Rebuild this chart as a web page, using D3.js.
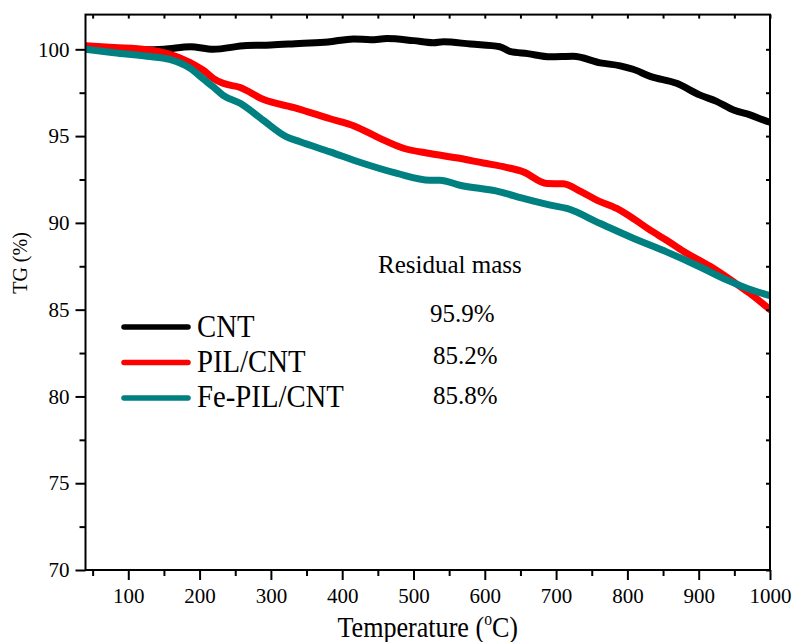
<!DOCTYPE html>
<html>
<head>
<meta charset="utf-8">
<script src="https://cdn.jsdelivr.net/npm/d3@7/dist/d3.min.js"></script>
<style>
  body { margin: 0; background: #fff; }
</style>
</head>
<body>
<svg id="chart" width="796" height="642"></svg>
<script>
// ---- data ----
const cntT   = [40, 80, 120, 150, 187, 219, 266, 300, 340, 380, 416, 440, 463, 500, 528, 542, 580, 621, 635, 660, 692, 724, 762, 790, 808, 832, 869, 902, 925, 949, 972, 996, 1000];
const cntV   = [100.0, 100.0, 99.97, 100.0, 100.15, 100.0, 100.22, 100.25, 100.34, 100.42, 100.6, 100.55, 100.62, 100.5, 100.38, 100.44, 100.3, 100.15, 99.88, 99.75, 99.57, 99.6, 99.22, 99.05, 98.85, 98.44, 98.04, 97.36, 97.0, 96.5, 96.22, 95.85, 95.8];
const pilT   = [40, 80, 126, 154, 187, 205, 219, 233, 257, 289, 336, 383, 416, 453, 486, 523, 560, 598, 630, 654, 687, 710, 735, 757, 785, 810, 832, 855, 879, 916, 949, 972, 1000];
const pilV   = [100.2, 100.1, 99.98, 99.77, 99.23, 98.8, 98.33, 98.04, 97.8, 97.12, 96.6, 96.0, 95.6, 94.87, 94.3, 94.0, 93.75, 93.45, 93.2, 92.94, 92.27, 92.25, 91.8, 91.31, 90.83, 90.2, 89.58, 89.0, 88.35, 87.5, 86.6, 85.93, 85.0];
const fepilT = [40, 80, 126, 158, 187, 205, 219, 233, 257, 289, 322, 341, 383, 430, 477, 523, 537, 565, 621, 654, 692, 715, 762, 809, 855, 902, 940, 963, 1000];
const fepilV = [100.0, 99.8, 99.6, 99.42, 98.9, 98.3, 97.84, 97.35, 96.89, 95.92, 94.96, 94.67, 94.09, 93.42, 92.85, 92.46, 92.46, 92.17, 91.79, 91.41, 91.02, 90.83, 89.96, 89.1, 88.33, 87.46, 86.7, 86.31, 85.8];

const seriesNames  = ["CNT", "PIL/CNT", "Fe-PIL/CNT"];
const seriesColors = ["#000000", "#ff0000", "#008080"];
const residualLabels = ["95.9%", "85.2%", "85.8%"];
const residualTitle = "Residual mass";

const xTicks = [100, 200, 300, 400, 500, 600, 700, 800, 900, 1000];
const xMinor = [50, 150, 250, 350, 450, 550, 650, 750, 850, 950];
const yTicks = [70, 75, 80, 85, 90, 95, 100];
const yMinor = [72.5, 77.5, 82.5, 87.5, 92.5, 97.5];

const series = [
  cntT.map((t, i) => [t, cntV[i]]),
  pilT.map((t, i) => [t, pilV[i]]),
  fepilT.map((t, i) => [t, fepilV[i]])
];

const FONT = "'Liberation Serif', 'Times New Roman', Tinos, 'DejaVu Serif', serif";

// ---- layout ----
const svg = d3.select("#chart");
const x = d3.scaleLinear().domain([40, 1000]).range([85.5, 770]);
const y = d3.scaleLinear().domain([70, 102]).range([570, 14.6]);
const X0 = x.range()[0], X1 = x.range()[1], Y0 = y.range()[0], Y1 = y.range()[1];

svg.append("clipPath").attr("id", "clip").append("rect")
  .attr("x", X0).attr("y", Y1).attr("width", X1 - X0).attr("height", Y0 - Y1);

const line = d3.line().x(d => x(d[0])).y(d => y(d[1])).curve(d3.curveMonotoneX);
const g = svg.append("g").attr("clip-path", "url(#clip)");
series.forEach((s, i) => {
  g.append("path").datum(s)
    .attr("d", line)
    .attr("fill", "none")
    .attr("stroke", seriesColors[i])
    .attr("stroke-width", 7)
    .attr("stroke-linejoin", "round")
    .attr("stroke-linecap", "round");
});

function styleAxis(sel) {
  sel.attr("font-family", null);
  sel.select(".domain").remove();
  sel.selectAll("line").attr("stroke", "#000").attr("stroke-width", 2);
  sel.selectAll("text").style("font-family", FONT).attr("fill", "#000");
}
const bottom = svg.append("g").attr("transform", `translate(0,${Y0})`)
  .call(d3.axisBottom(x).tickValues(xTicks).tickSize(10).tickPadding(8).tickFormat(d3.format("d")));
styleAxis(bottom);
bottom.selectAll("text").attr("font-size", 21);
svg.append("g").attr("transform", `translate(0,${Y0})`)
  .call(d3.axisBottom(x).tickValues(xMinor).tickSize(6).tickFormat(""))
  .call(styleAxis);
const left = svg.append("g").attr("transform", `translate(${X0},0)`)
  .call(d3.axisLeft(y).tickValues(yTicks).tickSize(10).tickPadding(6).tickFormat(d3.format("d")));
styleAxis(left);
left.selectAll("text").attr("font-size", 21);
svg.append("g").attr("transform", `translate(${X0},0)`)
  .call(d3.axisLeft(y).tickValues(yMinor).tickSize(6).tickFormat(""))
  .call(styleAxis);
svg.append("g").attr("transform", `translate(0,${Y1})`)
  .call(d3.axisBottom(x).tickValues(xTicks.concat(xMinor)).tickSize(4).tickFormat(""))
  .call(styleAxis);
svg.append("g").attr("transform", `translate(${X1},0)`)
  .call(d3.axisLeft(y).tickValues(yTicks.concat(yMinor)).tickSize(4).tickFormat(""))
  .call(styleAxis);

svg.append("rect").attr("x", X0).attr("y", Y1).attr("width", X1 - X0).attr("height", Y0 - Y1)
  .attr("fill", "none").attr("stroke", "#000").attr("stroke-width", 2);

function txt(parent) {
  return parent.append("text").style("font-family", FONT).attr("fill", "#000");
}

const xt = txt(svg)
  .attr("transform", `translate(${(X0 + X1) / 2},637) scale(0.87,1)`)
  .attr("text-anchor", "middle").attr("font-size", 30);
xt.append("tspan").text("Temperature (");
xt.append("tspan").attr("font-size", 18).attr("dy", -12).text("o");
xt.append("tspan").attr("dy", 12).text("C)");

txt(svg)
  .attr("transform", `translate(26.5,263) rotate(-90)`)
  .attr("text-anchor", "middle").attr("font-size", 20)
  .text("TG (%)");

const legY = [327, 362.5, 398];
const legBase = [336.7, 371.7, 406.7];
seriesNames.forEach((name, i) => {
  svg.append("line")
    .attr("x1", 124).attr("x2", 188).attr("y1", legY[i]).attr("y2", legY[i])
    .attr("stroke", seriesColors[i]).attr("stroke-width", 5.5).attr("stroke-linecap", "round");
  txt(svg)
    .attr("transform", `translate(197,${legBase[i]}) scale(0.885,1)`)
    .attr("font-size", 32.5).text(name);
});

txt(svg).attr("x", 378).attr("y", 272.5).attr("font-size", 25).text(residualTitle);
const resX = [430, 433, 433];
const resY = [321.5, 363.5, 404];
residualLabels.forEach((t, i) => {
  txt(svg).attr("x", resX[i]).attr("y", resY[i]).attr("font-size", 25).text(t);
});
</script>
</body>
</html>
